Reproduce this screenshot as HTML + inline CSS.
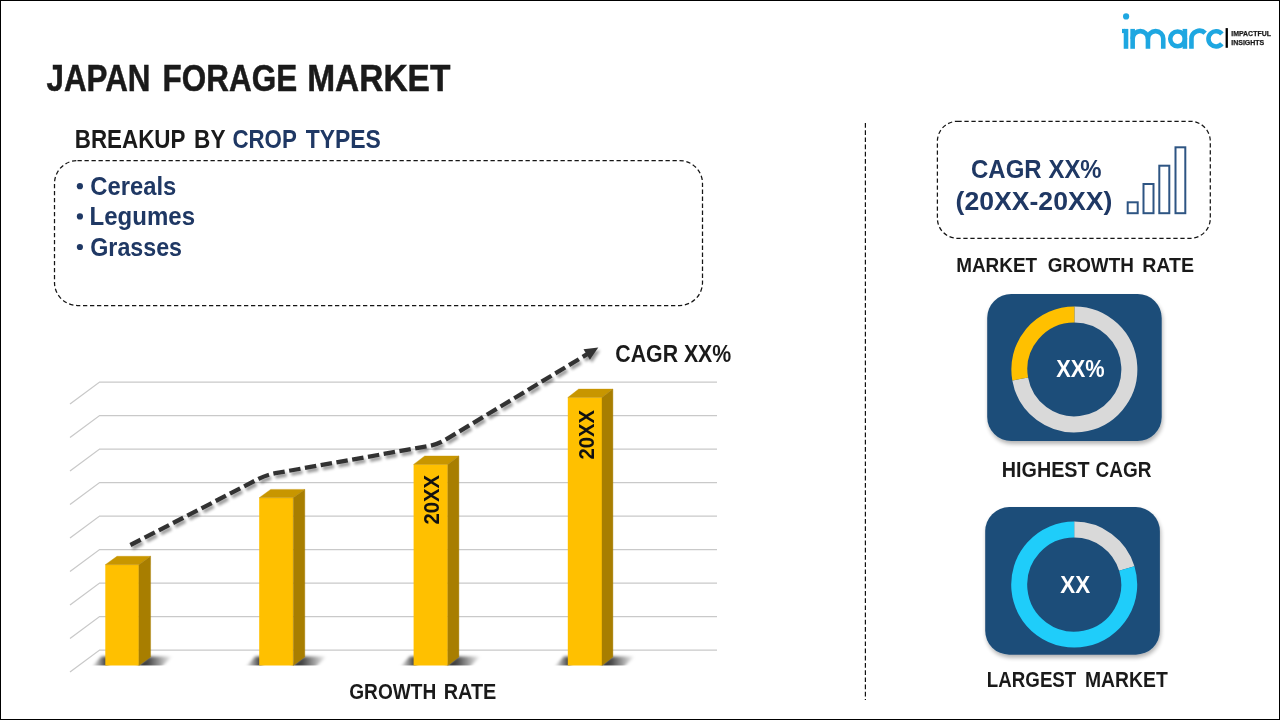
<!DOCTYPE html>
<html><head><meta charset="utf-8">
<style>
html,body{margin:0;padding:0;background:#fff;}
body{width:1280px;height:720px;overflow:hidden;}
svg{display:block;will-change:transform;}
text{font-family:"Liberation Sans",sans-serif;font-weight:bold;}
</style></head>
<body>
<svg width="1280" height="720" viewBox="0 0 1280 720">
<defs>
  <filter id="lsh" x="-10%" y="-20%" width="130%" height="160%">
    <feGaussianBlur in="SourceAlpha" stdDeviation="1.8"/>
    <feOffset dx="2" dy="3" result="b"/>
    <feComponentTransfer><feFuncA type="linear" slope="0.4"/></feComponentTransfer>
    <feMerge><feMergeNode/><feMergeNode in="SourceGraphic"/></feMerge>
  </filter>
  <filter id="tsh" x="-10%" y="-10%" width="120%" height="125%">
    <feGaussianBlur in="SourceAlpha" stdDeviation="2"/>
    <feOffset dx="1" dy="3" result="b"/>
    <feComponentTransfer><feFuncA type="linear" slope="0.3"/></feComponentTransfer>
    <feMerge><feMergeNode/><feMergeNode in="SourceGraphic"/></feMerge>
  </filter>
  <filter id="blur1" x="-50%" y="-100%" width="200%" height="300%"><feGaussianBlur stdDeviation="1.5"/></filter>
  <clipPath id="floorclip"><rect x="0" y="600" width="800" height="65.6"/></clipPath>
  <linearGradient id="shL" x1="0" x2="1" y1="0" y2="0">
    <stop offset="0" stop-color="#000" stop-opacity="0"/>
    <stop offset="1" stop-color="#000" stop-opacity="0.85"/>
  </linearGradient>
  <linearGradient id="shR" x1="0" x2="1" y1="0" y2="0">
    <stop offset="0" stop-color="#000" stop-opacity="0.9"/>
    <stop offset="0.35" stop-color="#000" stop-opacity="0.7"/>
    <stop offset="1" stop-color="#000" stop-opacity="0"/>
  </linearGradient>
</defs>

<rect x="0.5" y="0.5" width="1279" height="719" fill="none" stroke="#000" stroke-width="1"/>

<rect x="54.5" y="160.5" width="648" height="145" rx="23" ry="23" fill="none" stroke="#151515" stroke-width="1.25" stroke-dasharray="4.3 2.7"/>

<g fill="none" stroke="#c9c9c9" stroke-width="1.3">
<polyline points="70,404.1 99.6,382.1 717,382.1"/>
<polyline points="70,437.6 99.6,415.6 717,415.6"/>
<polyline points="70,471.1 99.6,449.1 717,449.1"/>
<polyline points="70,504.6 99.6,482.6 717,482.6"/>
<polyline points="70,538.1 99.6,516.1 717,516.1"/>
<polyline points="70,571.6 99.6,549.6 717,549.6"/>
<polyline points="70,605.1 99.6,583.1 717,583.1"/>
<polyline points="70,638.6 99.6,616.6 717,616.6"/>
<polyline points="70,672.1 99.6,650.1 717,650.1"/>
</g>

<g id="bars">
<g clip-path="url(#floorclip)"><g filter="url(#blur1)"><polygon points="91.3,667.5 101.3,656.6 108.3,656.6 108.3,667.5" fill="url(#shL)"/><polygon points="135.9,667.5 148.6,656.6 172.6,656.6 160.6,667.5" fill="url(#shR)"/></g></g>
<g clip-path="url(#floorclip)"><g filter="url(#blur1)"><polygon points="245.2,667.5 255.2,656.6 262.2,656.6 262.2,667.5" fill="url(#shL)"/><polygon points="290.3,667.5 302.8,656.6 326.8,656.6 314.8,667.5" fill="url(#shR)"/></g></g>
<g clip-path="url(#floorclip)"><g filter="url(#blur1)"><polygon points="399.6,667.5 409.6,656.6 416.6,656.6 416.6,667.5" fill="url(#shL)"/><polygon points="444.8,667.5 456.9,656.6 480.9,656.6 468.9,667.5" fill="url(#shR)"/></g></g>
<g clip-path="url(#floorclip)"><g filter="url(#blur1)"><polygon points="553.8,667.5 563.8,656.6 570.8,656.6 570.8,667.5" fill="url(#shL)"/><polygon points="599.0,667.5 610.9,656.6 634.9,656.6 622.9,667.5" fill="url(#shR)"/></g></g>
<rect x="105.3" y="564.7" width="33.6" height="100.8" fill="#ffc000"/>
<polygon points="105.3,564.7 117.0,556.3 150.6,556.3 138.9,564.7" fill="#c89600" stroke="#c89600" stroke-width="0.4"/>
<polygon points="138.9,564.7 150.6,556.3 150.6,657.1 138.9,665.5" fill="#a87e00" stroke="#a87e00" stroke-width="0.4"/>
<rect x="259.2" y="497.8" width="34.1" height="167.7" fill="#ffc000"/>
<polygon points="259.2,497.8 270.7,489.4 304.8,489.4 293.3,497.8" fill="#c89600" stroke="#c89600" stroke-width="0.4"/>
<polygon points="293.3,497.8 304.8,489.4 304.8,657.1 293.3,665.5" fill="#a87e00" stroke="#a87e00" stroke-width="0.4"/>
<rect x="413.6" y="464.4" width="34.2" height="201.1" fill="#ffc000"/>
<polygon points="413.6,464.4 424.7,456.0 458.9,456.0 447.8,464.4" fill="#c89600" stroke="#c89600" stroke-width="0.4"/>
<polygon points="447.8,464.4 458.9,456.0 458.9,657.1 447.8,665.5" fill="#a87e00" stroke="#a87e00" stroke-width="0.4"/>
<rect x="567.8" y="397.5" width="34.2" height="268.0" fill="#ffc000"/>
<polygon points="567.8,397.5 578.7,389.1 612.9,389.1 602.0,397.5" fill="#c89600" stroke="#c89600" stroke-width="0.4"/>
<polygon points="602.0,397.5 612.9,389.1 612.9,657.1 602.0,665.5" fill="#a87e00" stroke="#a87e00" stroke-width="0.4"/>
<text transform="translate(439.20,523.90) rotate(-90)" x="-0.70" y="0" font-size="22.09" fill="#111" textLength="49.58" lengthAdjust="spacingAndGlyphs">20XX</text>
<text transform="translate(594.20,458.80) rotate(-90)" x="-0.70" y="0" font-size="22.09" fill="#111" textLength="49.48" lengthAdjust="spacingAndGlyphs">20XX</text>
</g>

<g filter="url(#lsh)">
  <path d="M 130.4 545.0 L 258.5 478.9 Q 266.5 474.8 275.4 473.2 L 429.1 445.9 Q 438.0 444.3 445.7 439.6 L 588.5 353.4" fill="none" stroke="#333" stroke-width="4.3" stroke-dasharray="11.5 4.5" stroke-linejoin="round"/>
  <polygon points="598.3,347.5 589.9,359.8 583.5,349.2" fill="#333"/>
</g>

<line x1="865.4" y1="123" x2="865.4" y2="700" stroke="#111" stroke-width="1.2" stroke-dasharray="4.7 2.5"/>

<rect x="937.4" y="121.3" width="272.9" height="117" rx="20" ry="20" fill="none" stroke="#151515" stroke-width="1.25" stroke-dasharray="4.3 2.7"/>
<g fill="none" stroke="#2e5583" stroke-width="2">
  <rect x="1127.7" y="202.3" width="10" height="10.9"/>
  <rect x="1143.5" y="184" width="10" height="29.2"/>
  <rect x="1159.3" y="165.7" width="10" height="47.5"/>
  <rect x="1175.5" y="147.3" width="9.8" height="65.9"/>
</g>

<rect x="987.2" y="293.9" width="174.5" height="147.2" rx="24" ry="24" fill="#1f4e79" filter="url(#tsh)"/>
<g fill="none" stroke-width="16">
  <path d="M 1074.4 314.4 A 55 55 0 1 1 1020.2 379" stroke="#d9d9d9"/>
  <path d="M 1020.2 379 A 55 55 0 0 1 1074.4 314.4" stroke="#ffc000"/>
</g>

<rect x="985.2" y="507.1" width="174.7" height="147.6" rx="24" ry="24" fill="#1f4e79" filter="url(#tsh)"/>
<g fill="none" stroke-width="16">
  <path d="M 1074.2 529.6 A 55 55 0 0 1 1126.8 568.5" stroke="#d9d9d9"/>
  <path d="M 1126.8 568.5 A 55 55 0 1 1 1074.2 529.6" stroke="#1fcdfa"/>
</g>

<text x="46.54" y="90.60" font-size="36.92" fill="#1a1a1a" textLength="103.93" lengthAdjust="spacingAndGlyphs" stroke="#1a1a1a" stroke-width="0.5">JAPAN</text>
<text x="162.60" y="90.60" font-size="36.92" fill="#1a1a1a" textLength="134.53" lengthAdjust="spacingAndGlyphs" stroke="#1a1a1a" stroke-width="0.5">FORAGE</text>
<text x="307.16" y="90.60" font-size="36.92" fill="#1a1a1a" textLength="143.20" lengthAdjust="spacingAndGlyphs" stroke="#1a1a1a" stroke-width="0.5">MARKET</text>
<text x="74.75" y="147.60" font-size="25.00" fill="#1a1a1a" textLength="110.66" lengthAdjust="spacingAndGlyphs">BREAKUP</text>
<text x="194.09" y="147.60" font-size="25.00" fill="#1a1a1a" textLength="31.37" lengthAdjust="spacingAndGlyphs">BY</text>
<text x="232.39" y="147.60" font-size="25.00" fill="#1f3864" textLength="64.38" lengthAdjust="spacingAndGlyphs">CROP</text>
<text x="305.74" y="147.60" font-size="25.00" fill="#1f3864" textLength="75.15" lengthAdjust="spacingAndGlyphs">TYPES</text>
<text x="90.22" y="194.80" font-size="25.29" fill="#1f3864" textLength="86.05" lengthAdjust="spacingAndGlyphs">Cereals</text>
<circle cx="79.9" cy="186.2" r="3.1" fill="#1f3864"/>
<text x="89.59" y="225.00" font-size="25.29" fill="#1f3864" textLength="105.49" lengthAdjust="spacingAndGlyphs">Legumes</text>
<circle cx="79.9" cy="216.4" r="3.1" fill="#1f3864"/>
<text x="90.25" y="255.60" font-size="25.29" fill="#1f3864" textLength="91.81" lengthAdjust="spacingAndGlyphs">Grasses</text>
<circle cx="79.9" cy="247.0" r="3.1" fill="#1f3864"/>
<text x="615.33" y="361.80" font-size="24.13" fill="#1a1a1a" textLength="115.93" lengthAdjust="spacingAndGlyphs">CAGR XX%</text>
<text x="349.22" y="698.80" font-size="21.22" fill="#1a1a1a" textLength="87.07" lengthAdjust="spacingAndGlyphs">GROWTH</text>
<text x="443.71" y="698.80" font-size="21.22" fill="#1a1a1a" textLength="52.65" lengthAdjust="spacingAndGlyphs">RATE</text>
<text x="971.02" y="177.80" font-size="26.45" fill="#1f3864" textLength="70.57" lengthAdjust="spacingAndGlyphs">CAGR</text>
<text x="1048.49" y="177.80" font-size="26.45" fill="#1f3864" textLength="53.14" lengthAdjust="spacingAndGlyphs">XX%</text>
<text x="955.57" y="209.60" font-size="26.45" fill="#1f3864" textLength="156.75" lengthAdjust="spacingAndGlyphs">(20XX-20XX)</text>
<text x="956.13" y="271.60" font-size="20.35" fill="#1a1a1a" textLength="80.97" lengthAdjust="spacingAndGlyphs">MARKET</text>
<text x="1047.83" y="271.60" font-size="20.35" fill="#1a1a1a" textLength="86.05" lengthAdjust="spacingAndGlyphs">GROWTH</text>
<text x="1142.13" y="271.60" font-size="20.35" fill="#1a1a1a" textLength="51.82" lengthAdjust="spacingAndGlyphs">RATE</text>
<text x="1001.78" y="476.70" font-size="21.22" fill="#1a1a1a" textLength="87.83" lengthAdjust="spacingAndGlyphs">HIGHEST</text>
<text x="1095.62" y="476.70" font-size="21.22" fill="#1a1a1a" textLength="55.87" lengthAdjust="spacingAndGlyphs">CAGR</text>
<text x="986.85" y="686.70" font-size="21.22" fill="#1a1a1a" textLength="89.45" lengthAdjust="spacingAndGlyphs">LARGEST</text>
<text x="1084.96" y="686.70" font-size="21.22" fill="#1a1a1a" textLength="82.75" lengthAdjust="spacingAndGlyphs">MARKET</text>
<text x="1056.21" y="376.80" font-size="23.55" fill="#fff" textLength="48.36" lengthAdjust="spacingAndGlyphs">XX%</text>
<text x="1060.30" y="592.60" font-size="23.55" fill="#fff" textLength="29.89" lengthAdjust="spacingAndGlyphs">XX</text>

<g id="logo">
<g fill="none" stroke="#1ea7e1" stroke-width="4.6">
  <path d="M 1126 48.8 V 28.9"/>
  <path d="M 1132.65 48.8 V 28.9"/>
  <path d="M 1132.65 38.75 A 7.65 7.65 0 0 1 1147.95 38.75 V 48.8"/>
  <path d="M 1147.95 38.75 A 7.65 7.65 0 0 1 1163.25 38.75 V 48.8"/>
  <circle cx="1177.6" cy="38.85" r="7.35"/>
  <path d="M 1184.9 28.9 V 48.8"/>
  <path d="M 1191.45 48.8 V 38.8 A 8 8 0 0 1 1205.2 33.2"/>
  <path d="M 1221.9 34.0 A 7.6 7.6 0 1 0 1221.9 43.7"/>
</g>
<rect x="1122" y="28.9" width="3" height="4.2" fill="#1ea7e1"/>
<circle cx="1126.1" cy="16.4" r="3.1" fill="#1ea7e1"/>
<rect x="1225.6" y="28.1" width="2.3" height="19.7" fill="#000"/>
<text x="1231.24" y="36.00" font-size="7.12" fill="#1a1a1a" textLength="39.67" lengthAdjust="spacingAndGlyphs" stroke="#1a1a1a" stroke-width="0.25">IMPACTFUL</text>
<text x="1231.23" y="44.50" font-size="7.12" fill="#1a1a1a" textLength="33.04" lengthAdjust="spacingAndGlyphs" stroke="#1a1a1a" stroke-width="0.25">INSIGHTS</text>
</g>

</svg>
</body></html>
